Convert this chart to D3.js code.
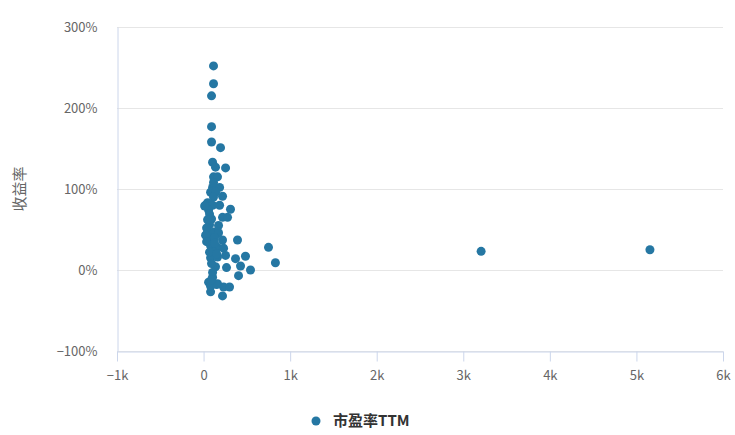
<!DOCTYPE html>
<html>
<head>
<meta charset="utf-8">
<script src="https://cdn.jsdelivr.net/npm/d3@7"></script>
<style>
  body { margin: 0; background: #fff; }
  text { font-family: "Noto Sans CJK SC", "Open Sans", sans-serif; }
</style>
</head>
<body>
<div id="chart"></div>
<script>
let width = 735
let height = 435

let seriesName = '市盈率TTM'
let yTitle = '收益率'

// 市盈率TTM (pe) and 收益率 (%)
let peValues = [115, 115, 92, 92, 92, 196, 104, 138, 254, 115, 161, 104, 185, 81, 138, 115, 219, 46, 104, 185,
  311, 219, 277, 92, 69, 46, 115, 173, 58, 219, 392, 81, 161, 231, 750, 115, 81, 161, 369, 484,
  830, 427, 542, 138, 404, 104, 58, 161, 231, 300, 81, 219, 3206, 5156,
  23, 58, 69, 46, 35, 23, 35, 69, 92, 127, 81, 127, 150, 115, 12, 173, 104, 150, 92, 254, 265]
let returnValues = [252, 230, 215, 177, 158, 151, 133, 127, 126, 115, 115, 102, 102, 96, 96, 90, 91, 83, 80, 80,
  75, 65, 65, 63, 56, 47, 47, 46, 40, 37, 37, 30, 28, 27, 28, 22, 15, 16, 14, 17,
  9, 5, 0, 4, -7, -9, -15, -17, -21, -21, -27, -32, 23, 25,
  80, 74, 69, 62, 52, 43, 35, 22, 8, 40, -20, 33, 20, 108, 79, 55, -3, -18, -12, 18, 3]

let xTicks = [-1000, 0, 1000, 2000, 3000, 4000, 5000, 6000]
let yTicks = [-100, 0, 100, 200, 300]

let margin = { top: 27, right: 12, bottom: 84, left: 117 }

let xScale = d3.scaleLinear()
  .domain([-1000, 6000])
  .range([margin.left, width - margin.right])

let yScale = d3.scaleLinear()
  .domain([-100, 300])
  .range([height - margin.bottom, margin.top])

let svg = d3.select('#chart').append('svg')
  .attr('width', width)
  .attr('height', height)

// horizontal grid lines
svg.append('g').selectAll('line')
  .data(yTicks)
  .enter().append('line')
  .attr('x1', xScale(-1000))
  .attr('x2', xScale(6000))
  .attr('y1', d => Math.round(yScale(d)) + 0.5)
  .attr('y2', d => Math.round(yScale(d)) + 0.5)
  .attr('stroke', '#e6e6e6')

// y axis
let yAxis = svg.append('g')
  .attr('transform', 'translate(' + (margin.left + 0.5) + ',0)')
  .call(d3.axisLeft(yScale).tickValues(yTicks).tickSize(0).tickPadding(20)
    .tickFormat(d => (d < 0 ? '\u2212' + (-d) : d) + '%'))
yAxis.select('.domain').attr('stroke', '#ccd6eb')
yAxis.selectAll('text').attr('fill', '#666').style('font-size', '13px')

// x axis
let xAxis = svg.append('g')
  .attr('transform', 'translate(0,' + (Math.round(yScale(-100)) + 0.5) + ')')
  .call(d3.axisBottom(xScale).tickValues(xTicks).tickSize(10).tickPadding(9)
    .tickSizeOuter(0)
    .tickFormat(d => d === 0 ? '0' : (d < 0 ? '\u2212' : '') + Math.abs(d / 1000) + 'k'))
xAxis.select('.domain').attr('stroke', '#ccd6eb')
xAxis.selectAll('line').attr('stroke', '#ccd6eb')
xAxis.selectAll('text').attr('fill', '#666').style('font-size', '13px')

// y axis title
svg.append('text')
  .attr('transform', 'translate(25,' + yScale(100) + ') rotate(-90)')
  .attr('text-anchor', 'middle')
  .attr('fill', '#666')
  .style('font-size', '15px')
  .text(yTitle)

// points
svg.append('g').selectAll('circle')
  .data(peValues.map((d, i) => ({ pe: d, ret: returnValues[i] })))
  .enter().append('circle')
  .attr('cx', d => xScale(d.pe))
  .attr('cy', d => yScale(d.ret))
  .attr('r', 4.5)
  .attr('fill', '#2577a3')

// legend
let legend = svg.append('g').attr('transform', 'translate(316,421)')
legend.append('circle').attr('r', 4.5).attr('fill', '#2577a3')
legend.append('text')
  .attr('x', 17)
  .attr('y', 5)
  .attr('fill', '#333')
  .style('font-size', '15px')
  .style('font-weight', 'bold')
  .text(seriesName)
</script>
</body>
</html>
